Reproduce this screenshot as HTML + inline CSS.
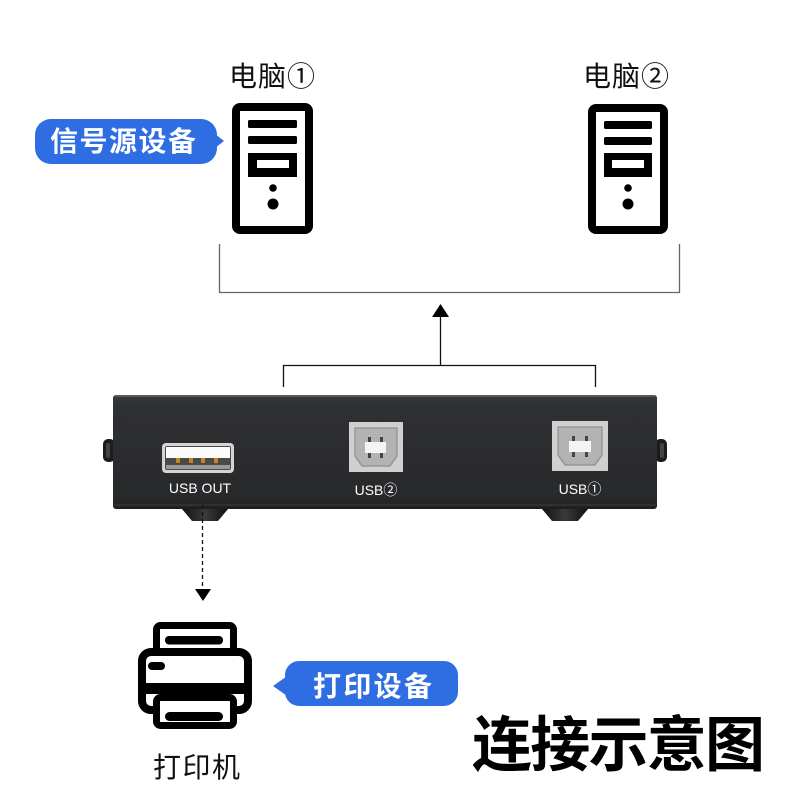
<!DOCTYPE html>
<html><head><meta charset="utf-8">
<style>
html,body{margin:0;padding:0;background:#fff;}
svg{display:block;}
text{font-family:"Liberation Sans","Noto Sans CJK SC",sans-serif;}
.cjk{font-family:"Noto Sans CJK SC","WenQuanYi Zen Hei",sans-serif;}
</style></head>
<body>
<svg width="800" height="800" viewBox="0 0 800 800" xmlns="http://www.w3.org/2000/svg">
<defs>
<linearGradient id="dev" x1="0" y1="0" x2="0" y2="1">
<stop offset="0" stop-color="#3a3b3e"/>
<stop offset="0.08" stop-color="#2f3033"/>
<stop offset="0.9" stop-color="#28292b"/>
<stop offset="1" stop-color="#1e1f20"/>
</linearGradient>
<linearGradient id="foot" x1="0" y1="0" x2="1" y2="0">
<stop offset="0" stop-color="#111"/>
<stop offset="0.5" stop-color="#3a3a3a"/>
<stop offset="1" stop-color="#111"/>
</linearGradient>
</defs>

<!-- PC labels -->
<text class="cjk" x="229" y="86" font-size="28" fill="#111" textLength="86">电脑①</text>
<text class="cjk" x="583" y="86" font-size="28" fill="#111" textLength="86">电脑②</text>

<!-- PC 1 -->
<g>
<rect x="236" y="107" width="73" height="123" rx="4" fill="#fff" stroke="#000" stroke-width="8"/>
<rect x="248" y="120" width="49" height="8" rx="1.5" fill="#000"/>
<rect x="248" y="136" width="49" height="8" rx="1.5" fill="#000"/>
<rect x="248" y="153" width="49" height="24" fill="#000"/>
<rect x="257" y="160" width="32" height="8" fill="#fff"/>
<circle cx="273" cy="188" r="3.8" fill="#000"/>
<circle cx="273" cy="204" r="5.5" fill="#000"/>
</g>
<!-- PC 2 -->
<g>
<rect x="592" y="108" width="72" height="122" rx="4" fill="#fff" stroke="#000" stroke-width="8"/>
<rect x="604" y="121" width="48" height="8" rx="1.5" fill="#000"/>
<rect x="604" y="137" width="48" height="8" rx="1.5" fill="#000"/>
<rect x="604" y="153" width="48" height="24" fill="#000"/>
<rect x="612" y="160" width="32" height="8" fill="#fff"/>
<circle cx="628" cy="188" r="3.8" fill="#000"/>
<circle cx="628" cy="204" r="5.5" fill="#000"/>
</g>

<!-- blue bubble 1 -->
<rect x="35" y="119" width="182" height="45" rx="16" fill="#2e6de2"/>
<polygon points="210,130 224,141 210,152" fill="#2e6de2"/>
<text class="cjk" x="50" y="151" font-size="28" fill="#fff" font-weight="bold" textLength="146">信号源设备</text>

<!-- top bracket -->
<polyline points="219.5,244 219.5,292.5 679.5,292.5 679.5,244" fill="none" stroke="#666" stroke-width="1.3"/>
<!-- arrow up -->
<line x1="440.5" y1="316" x2="440.5" y2="365" stroke="#111" stroke-width="1.3"/>
<polygon points="432,317 449,317 440.5,304" fill="#000"/>
<!-- lower bracket -->
<polyline points="283.5,387 283.5,365.5 595.5,365.5 595.5,387" fill="none" stroke="#111" stroke-width="1.3"/>

<!-- device side knobs -->
<rect x="103" y="439" width="12" height="23" rx="5" fill="#1c1c1c"/>
<rect x="106" y="443" width="4" height="15" rx="2" fill="#444"/>
<rect x="655" y="439" width="12" height="23" rx="5" fill="#1c1c1c"/>
<rect x="660" y="443" width="4" height="15" rx="2" fill="#444"/>
<!-- feet -->
<polygon points="182,509 228,509 218,521 192,521" fill="url(#foot)"/>
<polygon points="542,509 588,509 578,521 552,521" fill="url(#foot)"/>
<!-- device body -->
<rect x="113" y="395" width="544" height="114" rx="3" fill="url(#dev)"/>
<line x1="115" y1="396" x2="655" y2="396" stroke="#6a6b6e" stroke-width="1.2"/>
<line x1="114" y1="505" x2="656" y2="505" stroke="#3c3d40" stroke-width="1"/>

<!-- USB A port -->
<rect x="162" y="443" width="72" height="30" rx="4" fill="#d4d4d4"/>
<rect x="165" y="446" width="66" height="24" rx="2" fill="#4a4a4a"/>
<rect x="166" y="447" width="64" height="11" fill="#fbfbfb"/>
<rect x="166" y="465" width="64" height="4" fill="#9a9a9a"/>
<rect x="176" y="458" width="4" height="5" fill="#c8841e"/>
<rect x="189" y="458" width="4" height="5" fill="#c8841e"/>
<rect x="201" y="458" width="4" height="5" fill="#c8841e"/>
<rect x="214" y="458" width="4" height="5" fill="#c8841e"/>
<text x="200" y="493" font-size="14" fill="#fff" text-anchor="middle">USB OUT</text>

<!-- USB B port 2 -->
<g>
<rect x="349" y="422" width="54" height="50" fill="#cfcfcf"/>
<polygon points="355,428 397,428 397,456 390,466 362,466 355,456" fill="#b3b3b3" stroke="#8f8f8f" stroke-width="1.2"/>
<rect x="365" y="442" width="21" height="11" fill="#f4f4f4"/>
<rect x="368" y="437" width="3" height="5" fill="#444"/>
<rect x="380" y="437" width="3" height="5" fill="#444"/>
<rect x="368" y="453" width="3" height="5" fill="#444"/>
<rect x="380" y="453" width="3" height="5" fill="#444"/>
</g>
<text x="376" y="495" font-size="14" fill="#fff" text-anchor="middle">USB②</text>

<!-- USB B port 1 -->
<g>
<rect x="552" y="421" width="56" height="50" fill="#cfcfcf"/>
<polygon points="558,427 602,427 602,455 595,465 565,465 558,455" fill="#b3b3b3" stroke="#8f8f8f" stroke-width="1.2"/>
<rect x="569" y="441" width="22" height="11" fill="#f4f4f4"/>
<rect x="572" y="436" width="3" height="5" fill="#444"/>
<rect x="585" y="436" width="3" height="5" fill="#444"/>
<rect x="572" y="452" width="3" height="5" fill="#444"/>
<rect x="585" y="452" width="3" height="5" fill="#444"/>
</g>
<text x="580" y="494" font-size="14" fill="#fff" text-anchor="middle">USB①</text>

<!-- dashed down arrow -->
<line x1="202.5" y1="505" x2="202.5" y2="589" stroke="#111" stroke-width="1.3" stroke-dasharray="4,3"/>
<polygon points="195,589 211,589 203,601" fill="#000"/>

<!-- printer -->
<g>
<rect x="156.5" y="625.5" width="77" height="30" rx="4" fill="#fff" stroke="#000" stroke-width="7"/>
<rect x="142" y="652" width="106" height="58" rx="9" fill="#fff" stroke="#000" stroke-width="8"/>
<rect x="142" y="683" width="106" height="11" fill="#000"/>
<rect x="156.5" y="697.5" width="77" height="28" rx="4" fill="#fff" stroke="#000" stroke-width="7"/>
<rect x="165" y="636" width="58" height="8.5" rx="4" fill="#000"/>
<rect x="165" y="712" width="58" height="9" rx="4.5" fill="#000"/>
<rect x="148" y="662" width="17" height="8" rx="4" fill="#000"/>
</g>
<text class="cjk" x="153" y="777" font-size="28" fill="#111" textLength="87">打印机</text>

<!-- blue bubble 2 -->
<rect x="285" y="661" width="173" height="45" rx="14" fill="#2e6de2"/>
<polygon points="290,674 273,686 290,698" fill="#2e6de2"/>
<text class="cjk" x="313" y="696" font-size="28" fill="#fff" font-weight="bold" textLength="119">打印设备</text>

<!-- title -->
<text class="cjk" x="472" y="766" font-size="60" fill="#000" font-weight="bold" textLength="293">连接示意图</text>
</svg>
</body></html>
